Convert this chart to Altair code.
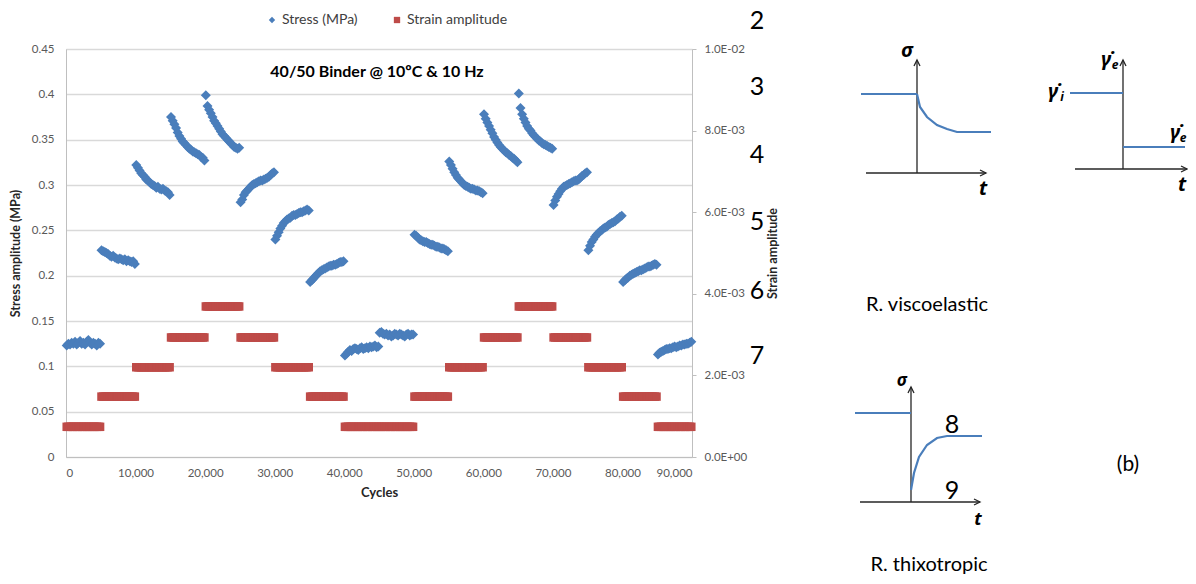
import altair as alt
import pandas as pd

# ---------------- data ----------------
BLOCK_START = [0, 5000, 10000, 15000, 20000, 25000, 30000, 35000, 40000,
               45000, 50000, 55000, 60000, 65000, 70000, 75000, 80000, 85000]
SAMPLE_OFFSET = [100, 340, 580, 820, 1060, 1300, 1540, 1780, 2020, 2260, 2500,
                 2740, 2980, 3220, 3460, 3700, 3940, 4180, 4420, 4660, 4900]

STRESS = [
    [0.123, 0.125, 0.124, 0.126, 0.125, 0.127, 0.124, 0.126, 0.128, 0.125, 0.126, 0.124, 0.127, 0.129, 0.126, 0.124, 0.126, 0.125, 0.123, 0.126, 0.125],
    [0.228, 0.227, 0.226, 0.225, 0.224, 0.222, 0.221, 0.222, 0.220, 0.219, 0.218, 0.219, 0.218, 0.217, 0.218, 0.216, 0.217, 0.216, 0.215, 0.216, 0.213],
    [0.322, 0.319, 0.316, 0.313, 0.311, 0.309, 0.306, 0.305, 0.303, 0.301, 0.300, 0.299, 0.297, 0.298, 0.296, 0.295, 0.296, 0.294, 0.293, 0.292, 0.289],
    [0.375, 0.371, 0.367, 0.363, 0.358, 0.354, 0.351, 0.348, 0.346, 0.344, 0.342, 0.340, 0.339, 0.337, 0.336, 0.335, 0.334, 0.333, 0.331, 0.330, 0.327],
    [0.399, 0.387, 0.383, 0.379, 0.375, 0.371, 0.368, 0.365, 0.362, 0.359, 0.356, 0.354, 0.352, 0.350, 0.348, 0.346, 0.344, 0.342, 0.341, 0.340, 0.341],
    [0.281, 0.284, 0.289, 0.292, 0.294, 0.296, 0.298, 0.300, 0.301, 0.302, 0.303, 0.304, 0.305, 0.305, 0.306, 0.307, 0.308, 0.309, 0.311, 0.313, 0.314],
    [0.240, 0.244, 0.248, 0.252, 0.255, 0.258, 0.260, 0.262, 0.263, 0.264, 0.266, 0.267, 0.267, 0.268, 0.269, 0.270, 0.270, 0.271, 0.272, 0.273, 0.272],
    [0.193, 0.195, 0.197, 0.199, 0.201, 0.203, 0.205, 0.206, 0.207, 0.208, 0.209, 0.210, 0.211, 0.211, 0.212, 0.212, 0.213, 0.214, 0.215, 0.215, 0.216],
    [0.112, 0.114, 0.116, 0.118, 0.117, 0.119, 0.120, 0.119, 0.118, 0.120, 0.121, 0.119, 0.120, 0.121, 0.120, 0.122, 0.121, 0.122, 0.123, 0.121, 0.122],
    [0.137, 0.138, 0.136, 0.135, 0.136, 0.134, 0.135, 0.133, 0.134, 0.136, 0.135, 0.134, 0.136, 0.135, 0.134, 0.133, 0.135, 0.136, 0.134, 0.135, 0.135],
    [0.245, 0.244, 0.242, 0.240, 0.239, 0.238, 0.237, 0.237, 0.236, 0.235, 0.234, 0.234, 0.233, 0.232, 0.232, 0.231, 0.230, 0.230, 0.229, 0.228, 0.227],
    [0.326, 0.322, 0.318, 0.314, 0.311, 0.308, 0.306, 0.304, 0.302, 0.300, 0.299, 0.298, 0.297, 0.296, 0.296, 0.295, 0.294, 0.294, 0.293, 0.292, 0.291],
    [0.378, 0.373, 0.369, 0.365, 0.361, 0.357, 0.353, 0.350, 0.347, 0.344, 0.342, 0.340, 0.338, 0.336, 0.335, 0.333, 0.332, 0.330, 0.329, 0.327, 0.325],
    [0.401, 0.385, 0.378, 0.373, 0.369, 0.365, 0.362, 0.360, 0.357, 0.355, 0.353, 0.351, 0.349, 0.348, 0.346, 0.345, 0.344, 0.343, 0.342, 0.341, 0.340],
    [0.278, 0.283, 0.287, 0.290, 0.293, 0.296, 0.298, 0.299, 0.300, 0.301, 0.302, 0.303, 0.304, 0.305, 0.305, 0.306, 0.308, 0.310, 0.311, 0.313, 0.314],
    [0.228, 0.233, 0.237, 0.240, 0.243, 0.245, 0.247, 0.249, 0.250, 0.252, 0.253, 0.254, 0.256, 0.257, 0.258, 0.259, 0.260, 0.262, 0.263, 0.265, 0.266],
    [0.193, 0.195, 0.197, 0.198, 0.200, 0.201, 0.202, 0.203, 0.204, 0.205, 0.206, 0.206, 0.207, 0.208, 0.209, 0.210, 0.210, 0.211, 0.212, 0.213, 0.212],
    [0.113, 0.115, 0.116, 0.117, 0.118, 0.119, 0.119, 0.120, 0.120, 0.121, 0.122, 0.121, 0.122, 0.123, 0.123, 0.124, 0.124, 0.125, 0.125, 0.126, 0.127],
]
STRAIN_LEVEL = [0.00074, 0.00148, 0.0022, 0.00293, 0.00369, 0.00293, 0.0022, 0.00148, 0.00074,
                0.00074, 0.00148, 0.0022, 0.00293, 0.00369, 0.00293, 0.0022, 0.00148, 0.00074]

X_TICKS = [0, 10000, 20000, 30000, 40000, 50000, 60000, 70000, 80000, 90000]
Y_TICKS = [0, 0.05, 0.1, 0.15, 0.2, 0.25, 0.3, 0.35, 0.4, 0.45]
STRAIN_TICKS = [0, 0.002, 0.004, 0.006, 0.008, 0.01]

# schematic diagrams (local units, origin at the axes' crossing)
D1_AXIS_X = [[0, 0], [-51, 69], [-3, 0, 3], [63, 69, 63]]
D1_AXIS_Y = [[0, 113], [0, 0], [107, 113, 107], [3, 0, -3]]
D1_CURVE_X = [[-56, 0], [0, 3, 10, 20, 30, 40, 74]]
D1_CURVE_Y = [[79, 79], [79, 66, 56, 48, 44, 41, 41]]

D2_AXIS_X = [[0, 0], [-48, 64], [-3, 0, 3], [58, 64, 58]]
D2_AXIS_Y = [[0, 109], [0, 0], [103, 109, 103], [3, 0, -3]]
D2_CURVE_X = [[-53, 0], [0, 62]]
D2_CURVE_Y = [[76, 76], [22, 22]]

D3_AXIS_X = [[0, 0], [-51, 69], [-3, 0, 3], [63, 69, 63]]
D3_AXIS_Y = [[0, 115], [0, 0], [109, 115, 109], [3, 0, -3]]
D3_CURVE_X = [[-56, 0], [0, 3, 8, 16, 26, 36, 71]]
D3_CURVE_Y = [[89, 89], [12, 29, 45, 57, 64, 66, 66]]

# ---------------- build tables ----------------
stress_rows, strain_rows = [], []
for b, start in enumerate(BLOCK_START):
    for k, off in enumerate(SAMPLE_OFFSET):
        stress_rows.append({"cycles": start + off, "stress": STRESS[b][k]})
        strain_rows.append({"cycles": start + off, "strain": STRAIN_LEVEL[b]})
stress_df = pd.DataFrame(stress_rows)
strain_df = pd.DataFrame(strain_rows)


def seg_table(xs, ys):
    rows = []
    for s, (sx, sy) in enumerate(zip(xs, ys)):
        for i, (a, b) in enumerate(zip(sx, sy)):
            rows.append({"seg": s, "i": i, "x": a, "y": b})
    return pd.DataFrame(rows)


# ---------------- style ----------------
FONT = "Lato"
BLUE = "#4A7EBB"
RED = "#BE4B48"
GRID = "#D9D9D9"
AX = "#BFBFBF"
LBL = "#595959"
OX, OY = 66, 49          # page position of the plot origin
W, H = 626, 408

xscale = alt.Scale(domain=[0, 90000], nice=False, zero=False)

blue = alt.Chart(stress_df).mark_point(
    shape="diamond", filled=True, size=100, color=BLUE, opacity=1
).encode(
    x=alt.X("cycles:Q", scale=xscale,
            axis=alt.Axis(values=X_TICKS, format=",d", title="Cycles", grid=False, ticks=False,
                          domainColor=AX, labelColor=LBL, labelFontSize=11.5, labelPadding=10,
                          titleFontSize=13, titleFontWeight="bold", titleColor="#262626",
                          titlePadding=8, labelFont=FONT, titleFont=FONT)),
    y=alt.Y("stress:Q", scale=alt.Scale(domain=[0, 0.45], nice=False, zero=True),
            axis=alt.Axis(values=Y_TICKS, format=".2~f", title="Stress amplitude (MPa)",
                          grid=True, gridColor=GRID, gridWidth=1.3, ticks=False, domainColor=AX,
                          labelColor=LBL, labelFontSize=11.5, labelPadding=12,
                          titleFontSize=12.5, titleFontWeight="bold", titleColor="#262626",
                          titlePadding=9, labelFont=FONT, titleFont=FONT)),
)

red = alt.Chart(strain_df).mark_square(size=72, color=RED, opacity=1).encode(
    x=alt.X("cycles:Q", scale=xscale, axis=None),
    y=alt.Y("strain:Q", scale=alt.Scale(domain=[0, 0.01], nice=False, zero=True),
            axis=alt.Axis(orient="right", values=STRAIN_TICKS, grid=False,
                          labelExpr="datum.value == 0 ? '0.0E+00' : (datum.value >= 0.0099 ? format(datum.value*100, '.1f') + 'E-02' : format(datum.value*1000, '.1f') + 'E-03')",
                          title="Strain amplitude", titleAngle=270, titleX=80, titleY=H / 2,
                          titleAlign="center", titleBaseline="middle",
                          tickSize=4, tickColor=AX,
                          domainColor=AX, labelColor=LBL, labelFontSize=11.5, labelPadding=8,
                          titleFontSize=12.5, titleFontWeight="bold", titleColor="#262626",
                          labelFont=FONT, titleFont=FONT)),
)


def diag(xs, ys, ox, oy, color, width):
    return alt.Chart(seg_table(xs, ys)).mark_line(color=color, strokeWidth=width).encode(
        x=alt.X("x:Q", scale=alt.Scale(domain=[-60, 80], range=[ox - 60 - OX, ox + 80 - OX],
                                       nice=False, zero=False), axis=None),
        y=alt.Y("y:Q", scale=alt.Scale(domain=[0, 120], range=[oy - OY, oy - 120 - OY],
                                       nice=False, zero=False), axis=None),
        detail="seg:N",
        order="i:Q",
    )


diagrams = [
    diag(D1_AXIS_X, D1_AXIS_Y, 917, 173, "#262626", 1.3),
    diag(D1_CURVE_X, D1_CURVE_Y, 917, 173, BLUE, 2.2),
    diag(D2_AXIS_X, D2_AXIS_Y, 1123, 169, "#262626", 1.3),
    diag(D2_CURVE_X, D2_CURVE_Y, 1123, 169, BLUE, 2.2),
    diag(D3_AXIS_X, D3_AXIS_Y, 911, 502, "#262626", 1.3),
    diag(D3_CURVE_X, D3_CURVE_Y, 911, 502, BLUE, 2.2),
]


def label(text, px, py, size, color="#000000", weight="normal", style="normal",
          align="center", font=FONT, baseline="middle"):
    return alt.Chart(alt.Data(values=[{}])).mark_text(
        text=text, fontSize=size, color=color, fontWeight=weight, fontStyle=style,
        align=align, baseline=baseline, font=font
    ).encode(x=alt.value(px - OX), y=alt.value(py - OY))


def legend_symbol(shape, px, py, color, size):
    return alt.Chart(alt.Data(values=[{}])).mark_point(
        shape=shape, filled=True, size=size, color=color, opacity=1
    ).encode(x=alt.value(px - OX), y=alt.value(py - OY))


texts = [
    legend_symbol("diamond", 272, 20, BLUE, 40),
    label("Stress (MPa)", 282, 20, 14, color="#404040", align="left"),
    legend_symbol("square", 397, 20, RED, 40),
    label("Strain amplitude", 407, 20, 14, color="#404040", align="left"),
    label("40/50 Binder @ 10ºC & 10 Hz", 377, 72, 16, color="#000000", weight="bold"),
    label("2", 757, 29, 25, baseline="alphabetic"),
    label("3", 757, 87, 25),
    label("4", 757, 155, 25),
    label("5", 757, 222, 25),
    label("6", 757, 291, 25),
    label("7", 757, 356, 25),
    label("8", 952, 425, 25),
    label("9", 952, 491, 25),
    label("(b)", 1128, 465, 21),
    label("R. viscoelastic", 927, 305, 20),
    label("R. thixotropic", 929, 565, 20),
    label("σ", 907, 51, 20, weight="bold", style="italic", font="Noto Sans"),
    label("t", 983, 189, 20, weight="bold", style="italic", font="Noto Sans"),
    label("σ", 902, 381, 17, weight="bold", style="italic", font="Noto Sans"),
    label("t", 978, 520, 18, weight="bold", style="italic", font="Noto Sans"),
    label("t", 1182, 185, 20, weight="bold", style="italic", font="Noto Sans"),
    label("γ̇", 1106, 60, 20, weight="bold", style="italic", font="Noto Sans"),
    label("e", 1115, 65, 12, weight="bold", style="italic", font="Noto Sans"),
    label("γ̇", 1053, 92, 20, weight="bold", style="italic", font="Noto Sans"),
    label("i", 1062, 97, 12, weight="bold", style="italic", font="Noto Sans"),
    label("γ̇", 1175, 133, 20, weight="bold", style="italic", font="Noto Sans"),
    label("e", 1183, 138, 12, weight="bold", style="italic", font="Noto Sans"),
]

TOTAL_W, TOTAL_H = 1180, 568
chart = alt.layer(blue, red, *diagrams, *texts).resolve_scale(
    x="independent", y="independent"
).properties(
    width=W, height=H,
    autosize=alt.AutoSizeParams(type="none"),
    padding={"left": OX - 8, "top": OY - 8, "right": TOTAL_W - (OX - 8) - W,
             "bottom": TOTAL_H - (OY - 8) - H},
).configure_view(stroke=None).configure(font=FONT, background="white")

chart.save("out.html", embed_options={"renderer": "svg", "actions": False})
